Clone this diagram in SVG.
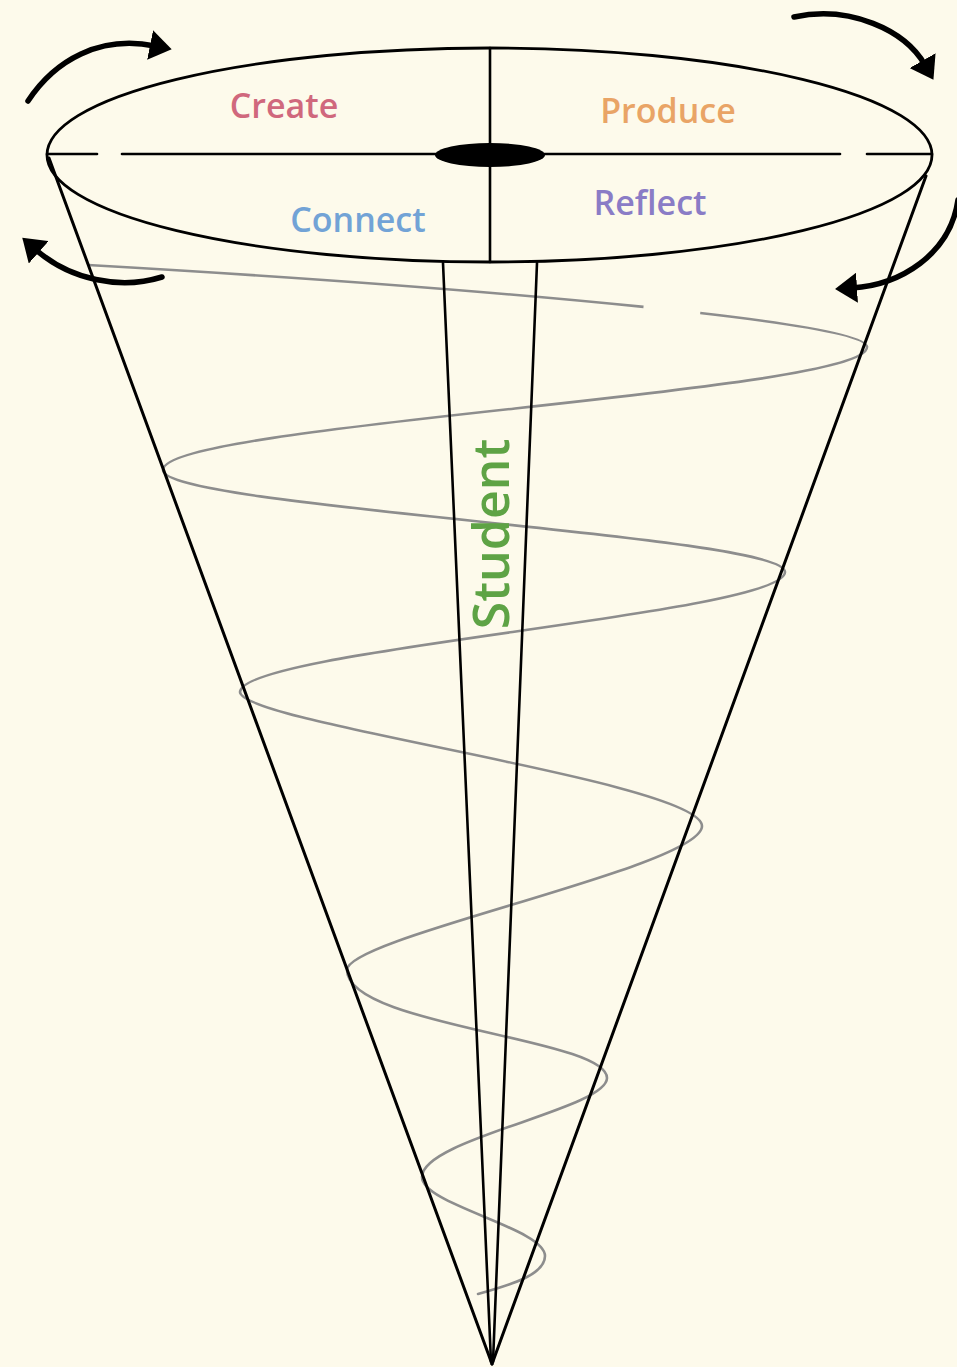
<svg xmlns="http://www.w3.org/2000/svg" width="957" height="1367" viewBox="0 0 957 1367">
<defs>
<style>
.ink{fill:none;stroke:#000;stroke-width:2.6;stroke-linecap:round}
.cone{fill:none;stroke:#000;stroke-width:3;stroke-linecap:round}
.spiral{fill:none;stroke:#8d8d8d;stroke-width:2.6;stroke-linejoin:round}
.arrow{fill:none;stroke:#000;stroke-width:5.5;stroke-linecap:round}
.lbl{font-family:"Open Sans","Liberation Sans",sans-serif;font-weight:600;text-anchor:middle}
</style>
<marker id="head" markerUnits="userSpaceOnUse" viewBox="0 0 22 30" markerWidth="22" markerHeight="30" refX="5" refY="15" orient="auto">
<path d="M0,0 L22,15 L0,30 z" fill="#000"/>
</marker>
</defs>
<rect width="957" height="1367" fill="#FDFAEB"/>

<g id="spiral">
<path class="spiral" stroke-dasharray="557 57 2000" d="M88,265 C350,280 867,317 867,347"/>
<path class="spiral" stroke-linecap="round" d="M867,347 C867,393 163,424 163,470 C163,507 785,535 785,572 C785,614 240,650 240,692 C240,723 702,782 702,826 C702,867 347,937 347,970 C347,1026 607,1038 607,1078 C607,1109 422,1139 422,1177 C422,1205 545,1228 545,1256 C545,1275 510,1285 478,1294"/>
</g>

<g id="cone">
<line class="cone" x1="49" y1="158" x2="492" y2="1364"/>
<line class="cone" x1="926" y1="176" x2="492" y2="1364"/>
<line class="ink" x1="443" y1="263" x2="491" y2="1362"/>
<line class="ink" x1="537" y1="263" x2="493" y2="1362"/>
</g>

<g id="top-disc">
<ellipse cx="489.5" cy="155" rx="442.5" ry="107" fill="none" stroke="#000" stroke-width="2.8"/>
<line class="ink" x1="47" y1="154" x2="97" y2="154"/>
<line class="ink" x1="122" y1="154" x2="840" y2="154"/>
<line class="ink" x1="867" y1="154" x2="932" y2="154"/>
<line class="ink" x1="490" y1="48" x2="490" y2="262"/>
<ellipse cx="490" cy="155" rx="55" ry="12" fill="#000"/>
</g>

<g id="label-create"><text class="lbl" x="284" y="118" font-size="34" fill="#D0687D">Create</text></g>
<g id="label-produce"><text class="lbl" x="668" y="123" font-size="34" fill="#E9A466">Produce</text></g>
<g id="label-connect"><text class="lbl" x="358" y="232" font-size="34" fill="#72A3D6">Connect</text></g>
<g id="label-reflect"><text class="lbl" x="650" y="215" font-size="34" fill="#8A7CC6">Reflect</text></g>
<g id="label-student"><text class="lbl" transform="translate(509,534) rotate(-90)" x="0" y="0" font-size="50" fill="#5EA345">Student</text></g>

<g id="connectors">
<path class="arrow" marker-end="url(#head)" d="M28,101 C55,60 100,35 155,46"/>
<path class="arrow" marker-end="url(#head)" d="M162,277 C120,290 70,280 35,249"/>
<path class="arrow" marker-end="url(#head)" d="M794,17 C850,5 905,30 925,65"/>
<path class="arrow" marker-end="url(#head)" d="M958,200 C950,255 900,285 852,288"/>
</g>
</svg>
